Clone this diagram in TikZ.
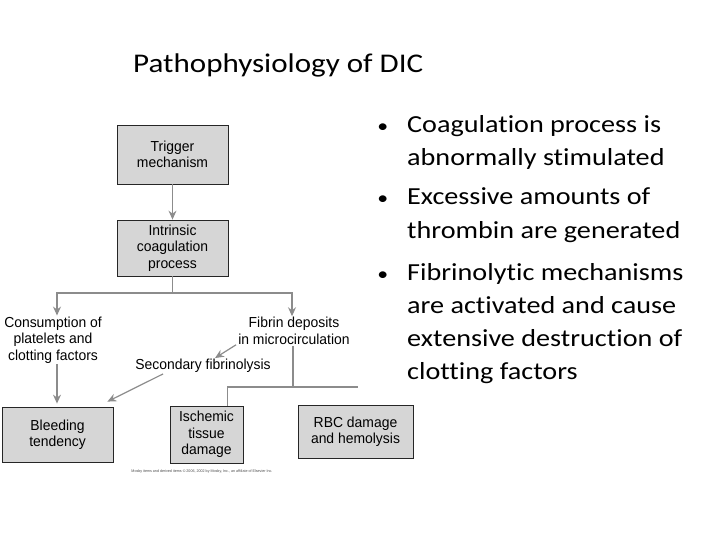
\documentclass[tikz,border=0pt]{standalone}
\usepackage{fontspec}
\setmainfont{Carlito}[FakeStretch=1.15, Ligatures={NoCommon}]
\newfontfamily\diafont{Liberation Sans}[FakeStretch=0.96]
\usetikzlibrary{arrows.meta}

\definecolor{boxgray}{RGB}{214,214,214}
\definecolor{linegray}{RGB}{140,140,140}

\newcommand{\pointmark}{\llap{{\fontsize{19}{19}\selectfont\textbullet}\hspace{19pt}}}

\begin{document}
\begin{tikzpicture}[x=1pt, y=-1pt,
	box/.style={draw=black!85, line width=0.8pt, fill=boxgray, inner sep=0pt, align=center, font=\diafont\fontsize{14.5}{16.5}\selectfont},
	lbl/.style={inner sep=1pt, align=center, font=\diafont\fontsize{14.5}{16.5}\selectfont},
	link/.style={draw=linegray, line width=1.2pt},
	arr/.style={link, -{Stealth[length=9pt, width=8pt, inset=3pt]}},
	bul/.style={anchor=base west, inner sep=0pt, text width=310pt, align=flush left, font=\fontsize{24.5}{33}\selectfont}]
	\useasboundingbox (0,0) rectangle (720,540);
	
	%Titel
	\node[anchor=base west, inner sep=0pt, font=\fontsize{27}{32}\selectfont] (title) at (133,73) {Pathophysiology of DIC};
	
	%Stichpunkte
	\node[bul] (pointA) at (407,133) {\pointmark Coagulation process is\\abnormally stimulated};
	\node[bul] (pointB) at (407,205) {\pointmark Excessive amounts of\\thrombin are generated};
	\node[bul] (pointC) at (407,280) {\pointmark Fibrinolytic mechanisms\\are activated and cause\\extensive destruction of\\clotting factors};
	
	%Kaesten
	\node[box, minimum width=111pt, minimum height=59pt] (trigger) at (172.5,154.5) {Trigger\\mechanism};
	\node[box, minimum width=111pt, minimum height=56pt] (intrinsic) at (172.5,248) {Intrinsic\\coagulation\\process};
	\node[box, minimum width=111pt, minimum height=55pt] (bleeding) at (57.5,434.5) {Bleeding\\tendency};
	\node[box, minimum width=73pt, minimum height=57pt] (ischemic) at (206.5,434.5) {Ischemic\\tissue\\damage};
	\node[box, minimum width=115pt, minimum height=53pt] (rbc) at (355.5,431.5) {RBC damage\\and hemolysis};
	
	%Freie Texte
	\node[lbl] (consume) at (53,340) {Consumption of\\platelets and\\clotting factors};
	\node[lbl] (fibrin) at (294,331) {Fibrin deposits\\in microcirculation};
	\node[lbl] (secondary) at (203,366) {Secondary fibrinolysis};
	\node[inner sep=0pt, font=\diafont\fontsize{3.8}{4}\selectfont, text=black!70] (credit) at (202,472) {Mosby items and derived items \textcopyright\ 2006, 2002 by Mosby, Inc., an affiliate of Elsevier Inc.};
	
	%Verbindungen
	\coordinate (fork) at (172.5,293);
	\coordinate (join) at (293,387);
	\coordinate (rbcend) at (358,387);
	
	\draw[arr] (trigger) -- (intrinsic);
	\draw[link] (intrinsic) -- (fork);
	\draw[arr] (fork) -| ([xshift=4pt]consume.north);
	\draw[arr] (fork) -| ([xshift=-2pt]fibrin.north);
	\draw[arr, shorten >=3pt] ([xshift=4pt]consume.south) -- ([xshift=4pt]consume.south |- bleeding.north);
	\draw[arr] ([shift={(-1pt,1pt)}]fibrin.south west) -- ([xshift=12pt]secondary.north);
	\draw[arr] ([xshift=-40pt]secondary.south) -- ([shift={(-6pt,5pt)}]bleeding.north east);
	\draw[link] ([xshift=-1pt]fibrin.south) -- ([xshift=-1pt]fibrin.south |- join);
	\draw[link] (join) -| ([xshift=21pt]ischemic.north);
	\draw[link] (join) -- (rbcend);
	
\end{tikzpicture}
\end{document}
